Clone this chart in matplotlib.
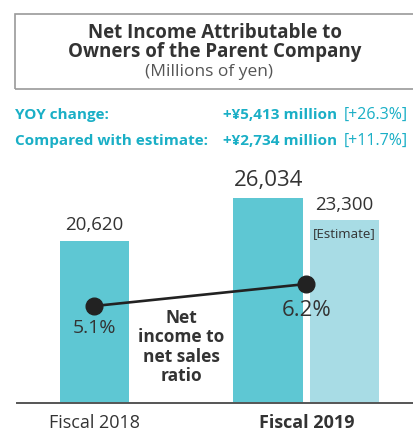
import matplotlib
matplotlib.use('Agg')
from matplotlib import pyplot as plt
from matplotlib.patches import Rectangle

plt.rcParams['font.family'] = ['Open Sans', 'DejaVu Sans']

# data
groups = ['Fiscal 2018', 'Fiscal 2019']
net_income = [20620, 26034]
estimate = 23300
ratio = [5.1, 6.2]
yoy_change = '+¥5,413 million'
yoy_pct = '[+26.3%]'
est_change = '+¥2,734 million'
est_pct = '[+11.7%]'

BAR = '#5EC7D3'
BAR_LIGHT = '#A8DCE5'
TEAL = '#1AAFC6'
DARK = '#333333'

W, H = 414, 433
fig = plt.figure(figsize=(W / 100, H / 100), dpi=100)

def fx(px):
    return px / W

def fy(py):
    return 1 - py / H

# title box
fig.add_artist(Rectangle((fx(15), fy(89)), fx(420) - fx(15), fy(14) - fy(89),
                         transform=fig.transFigure, fill=False, edgecolor='#9a9a9a',
                         linewidth=1.2, clip_on=False))
fig.text(fx(215), fy(33), 'Net Income Attributable to', ha='center', va='center',
         fontsize=13.5, fontweight='bold', color=DARK)
fig.text(fx(215), fy(52), 'Owners of the Parent Company', ha='center', va='center',
         fontsize=13.5, fontweight='bold', color=DARK)
fig.text(fx(209), fy(72), '(Millions of yen)', ha='center', va='center',
         fontsize=12.5, color='#555555')

# change lines
fig.text(fx(15), fy(115), 'YOY change:', ha='left', va='center',
         fontsize=11, fontweight='bold', color=TEAL)
fig.text(fx(15), fy(141), 'Compared with estimate:', ha='left', va='center',
         fontsize=11, fontweight='bold', color=TEAL)
fig.text(fx(337), fy(115), yoy_change, ha='right', va='center',
         fontsize=11, fontweight='bold', color=TEAL)
fig.text(fx(337), fy(141), est_change, ha='right', va='center',
         fontsize=11, fontweight='bold', color=TEAL)
fig.text(fx(344), fy(115), yoy_pct, ha='left', va='center',
         fontsize=11.5, color=TEAL)
fig.text(fx(344), fy(141), est_pct, ha='left', va='center',
         fontsize=11.5, color=TEAL)

# bars
ax = fig.add_axes([fx(17), fy(403), fx(414) - fx(17), fy(167) - fy(403)])
x = [0, 2.5]
width = 1.0
ax.bar(x, net_income, width=width, color=BAR)
est_x = x[1] + 1.1
ax.bar([est_x], [estimate], width=width, color=BAR_LIGHT)
ax.set_xlim(-1.115, 4.6)
ax.set_ylim(0, 30000)

for xi, v, fs, off in zip(x, net_income, [13.5, 16], [5, 5]):
    ax.annotate(f'{v:,}', (xi, v), xytext=(0, off), textcoords='offset points',
                ha='center', va='bottom', fontsize=fs, color=DARK)
ax.annotate(f'{estimate:,}', (est_x, estimate), xytext=(0, 4), textcoords='offset points',
            ha='center', va='bottom', fontsize=13.5, color=DARK)
ax.annotate('[Estimate]', (est_x, estimate), xytext=(0, -10), textcoords='offset points',
            ha='center', va='center', fontsize=9.5, color=DARK)

for s in ['top', 'left', 'right']:
    ax.spines[s].set_visible(False)
ax.spines['bottom'].set_color('#555555')
ax.spines['bottom'].set_linewidth(1.4)
ax.set_yticks([])
label_x = [x[0], (x[1] + est_x) / 2]
ax.set_xticks(label_x, groups)
ax.tick_params(axis='x', length=0, pad=8, labelsize=13, labelcolor=DARK)
ax.get_xticklabels()[1].set_fontweight('bold')

# ratio line
ax2 = ax.twinx()
ax2.set_ylim(0.25, 12.05)
ax2.axis('off')
ax2.plot(label_x, ratio, color='#222222', linewidth=1.9, marker='o', markersize=12,
         zorder=5)
ax2.annotate(f'{ratio[0]}%', (label_x[0], ratio[0]), xytext=(0, -16), textcoords='offset points',
             ha='center', va='center', fontsize=14, color=DARK)
ax2.annotate(f'{ratio[1]}%', (label_x[1], ratio[1]), xytext=(0, -19), textcoords='offset points',
             ha='center', va='center', fontsize=16, color=DARK)

fig.text(fx(181), fy(347), 'Net\nincome to\nnet sales\nratio', ha='center', va='center',
         fontsize=12.5, fontweight='bold', color=DARK, linespacing=1.08)

fig.savefig('out.png', dpi=100)
